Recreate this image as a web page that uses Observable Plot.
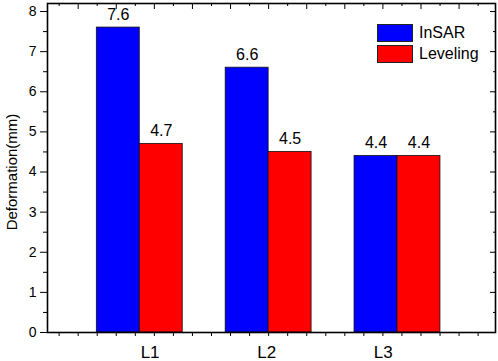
<!DOCTYPE html>
<html><head><meta charset="utf-8">
<script src="https://cdn.jsdelivr.net/npm/d3@7"></script>
<script src="https://cdn.jsdelivr.net/npm/@observablehq/plot@0.6"></script>
<style>
body{margin:0;background:#fff;font-family:"Liberation Sans",Arial,sans-serif;}
#wrap{position:relative;width:498px;height:361px;}
.legend{position:absolute;left:377px;top:24px;}
.row{display:flex;align-items:center;height:18px;margin-bottom:3px;font-size:16px;color:#000;}
.sw{width:34px;height:16px;border:1px solid #222;margin-right:6px;}
</style></head><body><div id="wrap"></div>
<script>
const categories = ["L1", "L2", "L3"];
const seriesNames = ["InSAR", "Leveling"];
const insarValues = [7.6, 6.6, 4.4];
const levelingValues = [4.7, 4.5, 4.4];
const seriesColors = ["#0000ff", "#ff0000"];
const yTicks = [0, 1, 2, 3, 4, 5, 6, 7, 8];

const seriesValues = [insarValues, levelingValues];
const rows = categories.flatMap((c, i) => seriesNames.map((s, j) => ({
  category: c, idx: i + 1, series: s, j, value: seriesValues[j][i]
})));

// axis styling (Origin-like mirrored frame ticks)
const step = 0.1478;
const bottomTicks = d3.range(-11, 12).map(k => 2 + k * step);
const topMajor = bottomTicks.filter((_, i) => i % 2 === 1);
const topMinor = bottomTicks.filter((_, i) => i % 2 === 0);
const yMinor = yTicks.slice(0, -1).map(v => v + 0.5);
const blank = () => "";
const labelX = (d, i) => 1.985 + (i - 1) * 0.905;

const chart = Plot.plot({
  width: 498, height: 361,
  marginTop: 3, marginRight: 3, marginBottom: 29, marginLeft: 47,
  style: {fontFamily: '"Liberation Sans", Arial, sans-serif', color: "#000", background: "#fff"},
  x: {type: "linear", domain: [0.2839, 3.7606], axis: null},
  y: {domain: [0, 8.2], axis: null},
  color: {domain: seriesNames, range: seriesColors},
  marks: [
    Plot.rect(rows, {
      x1: d => d.idx + (d.j - 1) / 3, x2: d => d.idx + d.j / 3,
      y1: () => 0, y2: "value", fill: "series", stroke: "#111", strokeWidth: 0.8
    }),
    Plot.text(rows, {
      x: d => d.idx + (d.j - 0.5) / 3, y: "value", text: d => d.value.toFixed(1),
      dy: -8, lineAnchor: "bottom", fontSize: 16
    }),
    Plot.axisY({ticks: yTicks, anchor: "left", tickSize: 7, tickPadding: 4, fontSize: 14, label: null}),
    Plot.axisY({ticks: yMinor, anchor: "left", tickSize: 4, tickFormat: blank, label: null}),
    Plot.axisY({ticks: yTicks, anchor: "right", tickSize: 6, dx: -6, tickFormat: blank, label: null}),
    Plot.axisY({ticks: yMinor, anchor: "right", tickSize: 3, dx: -3, tickFormat: blank, label: null}),
    Plot.axisX({ticks: bottomTicks, anchor: "bottom", tickSize: 4, tickFormat: blank, label: null}),
    Plot.axisX({ticks: topMajor, anchor: "top", tickSize: 5, dy: 5, tickFormat: blank, label: null}),
    Plot.axisX({ticks: topMinor, anchor: "top", tickSize: 2, dy: 2, tickFormat: blank, label: null}),
    Plot.text(categories, {x: labelX, y: () => 0, text: d => d, dy: 25, lineAnchor: "bottom", fontSize: 17}),
    Plot.text(["Deformation(mm)"], {frameAnchor: "left", textAnchor: "middle", text: d => d, rotate: -90, dx: -35, dy: 4, fontSize: 15}),
    Plot.frame({stroke: "#000", strokeWidth: 1.6})
  ]
});

const wrap = document.getElementById("wrap");
wrap.appendChild(chart);
const legend = document.createElement("div");
legend.className = "legend";
seriesNames.forEach((s, i) => {
  const row = document.createElement("div");
  row.className = "row";
  const sw = document.createElement("div");
  sw.className = "sw";
  sw.style.background = seriesColors[i];
  const t = document.createElement("span");
  t.textContent = s;
  row.appendChild(sw); row.appendChild(t);
  legend.appendChild(row);
});
wrap.appendChild(legend);
</script></body></html>
